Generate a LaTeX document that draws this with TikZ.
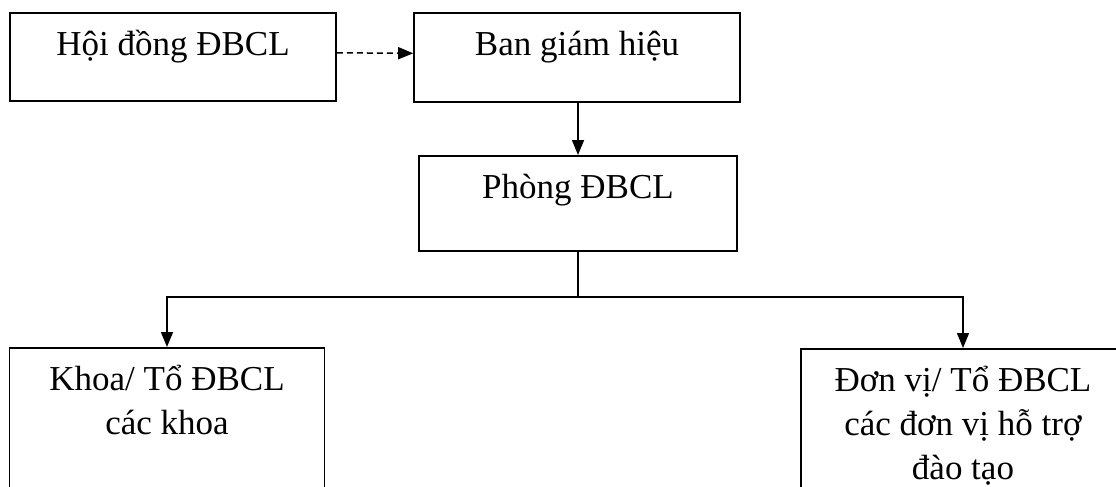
\documentclass[tikz,border=0pt]{standalone}
\usepackage{fontspec}
\setmainfont{Liberation Serif}
\usetikzlibrary{arrows.meta,positioning}

\begin{document}
\begin{tikzpicture}[x=1pt,y=-1pt,>={Triangle[length=15pt,width=12pt]},
  box/.style={draw,line width=1.6pt,inner sep=0pt,anchor=north,align=center,
    font=\fontsize{35}{44}\selectfont,text height=43pt},
  link/.style={line width=1.5pt}]
\useasboundingbox[fill=white] (0,0) rectangle (1116,487);
\node[box,minimum width=326pt,text depth=45pt] (hoidong) at (173,12)   {Hội đồng ĐBCL};
\node[box,minimum width=326pt,text depth=46pt] (bgh)     at (577,12)   {Ban giám hiệu};
\node[box,minimum width=318pt,text depth=52pt] (phong)   at (578,155)  {Phòng ĐBCL};
\node[box,minimum width=315pt,text height=87pt,text depth=90pt] (khoa)   at (167,347)  {Khoa/ Tổ ĐBCL\\các khoa};
\node[box,minimum width=324pt,text height=131pt,text depth=50pt] (donvi)  at (963,348)  {Đơn vị/ Tổ ĐBCL\\các đơn vị hỗ trợ\\đào tạo};
\coordinate (split) at (578,297);
\draw[link,->,dash pattern=on 6pt off 4pt] ([yshift=4pt]hoidong.east) -- ([yshift=4pt]bgh.west);
\draw[link,->] (bgh.south -| phong.north) -- (phong.north);
\draw[link] (phong.south) -- (split);
\draw[link,->] (split) -| (khoa.north);
\draw[link,->] (split) -| (donvi.north);
\end{tikzpicture}
\end{document}
